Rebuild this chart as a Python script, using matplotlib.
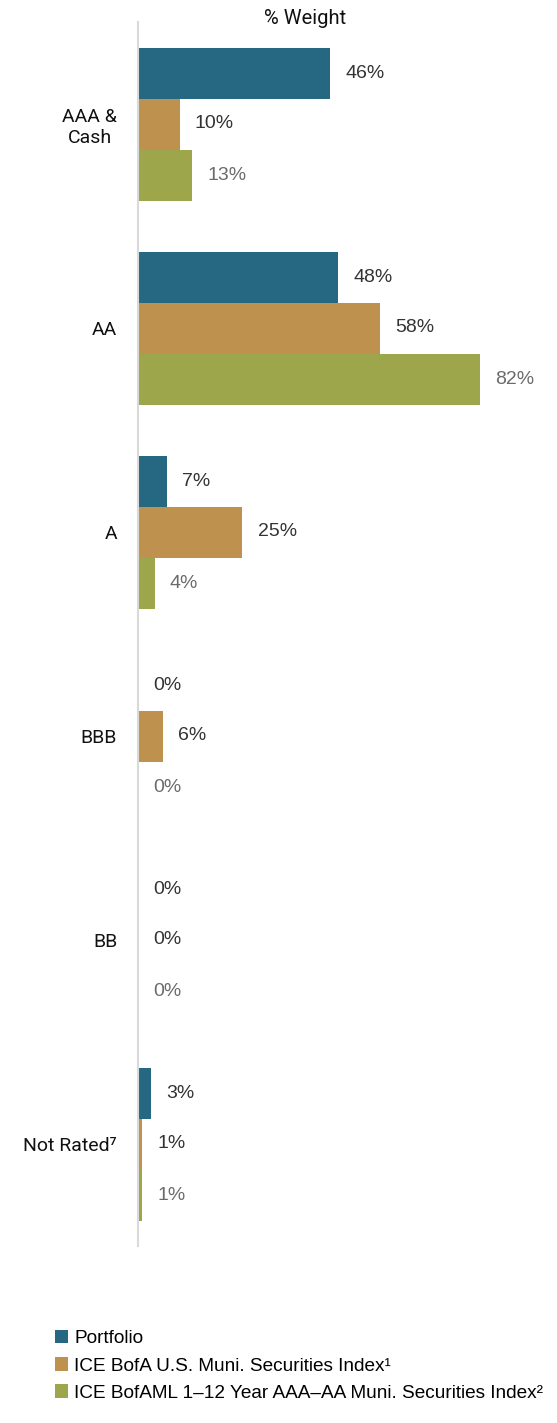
import matplotlib
matplotlib.use("Agg")
import matplotlib.pyplot as plt
import numpy as np

categories = ["AAA &\nCash", "AA", "A", "BBB", "BB", "Not Rated\u2077"]
series_names = ["Portfolio",
                "ICE BofA U.S. Muni. Securities Index\u00b9",
                "ICE BofAML 1\u201312 Year AAA\u2013AA Muni. Securities Index\u00b2"]
portfolio = [46, 48, 7, 0, 0, 3]
index1 = [10, 58, 25, 6, 0, 1]
index2 = [13, 82, 4, 0, 0, 1]
colors = ["#266882", "#BF914F", "#9DA64A"]
label_colors = ["#333333", "#333333", "#6b6b6b"]

W, H = 557, 1423
fig = plt.figure(figsize=(W / 100, H / 100), dpi=100)
ax = fig.add_axes([138 / W, 1 - 1246 / H, (555 - 138) / W, (1246 - 22) / H])

narrow = ["Roboto", "DejaVu Sans"]
regular = ["Liberation Sans", "DejaVu Sans"]

y = np.arange(len(categories))
h = 0.25
for i, (vals, c, lc) in enumerate(zip([portfolio, index1, index2], colors, label_colors)):
    pos = y + (i - 1) * h
    ax.barh(pos, vals, height=h, color=c, label=series_names[i])
    for p, v in zip(pos, vals):
        ax.annotate(f"{v}%", (v, p), xytext=(11, 0), textcoords="offset points",
                    va="center", ha="left", fontsize=14, color=lc, family=regular)

ax.set_xlim(0, 100)
ax.set_ylim(5.5, -0.5)
ax.set_xticks([])
ax.set_yticks(y)
ax.set_yticklabels(categories, family=narrow, fontsize=14, color="#111111",
                   multialignment="center")
ax.tick_params(axis="y", length=0, pad=15)
for s in ["top", "right", "bottom"]:
    ax.spines[s].set_visible(False)
ax.spines["left"].set_color("#d9d9d9")
ax.spines["left"].set_linewidth(1.5)

fig.text(305 / W, 1 - 18 / H, "% Weight", ha="center", va="center",
         fontsize=14.5, family=narrow, color="#111111")

ax.legend(loc="upper left", bbox_to_anchor=(55 / W, 1 - 1330 / H),
          bbox_transform=fig.transFigure, frameon=False,
          handlelength=0.7, handleheight=0.7, handletextpad=0.3,
          labelspacing=0.52, prop={"family": regular, "size": 13.7},
          borderaxespad=0, borderpad=0)

fig.savefig("out.png", dpi=100)
